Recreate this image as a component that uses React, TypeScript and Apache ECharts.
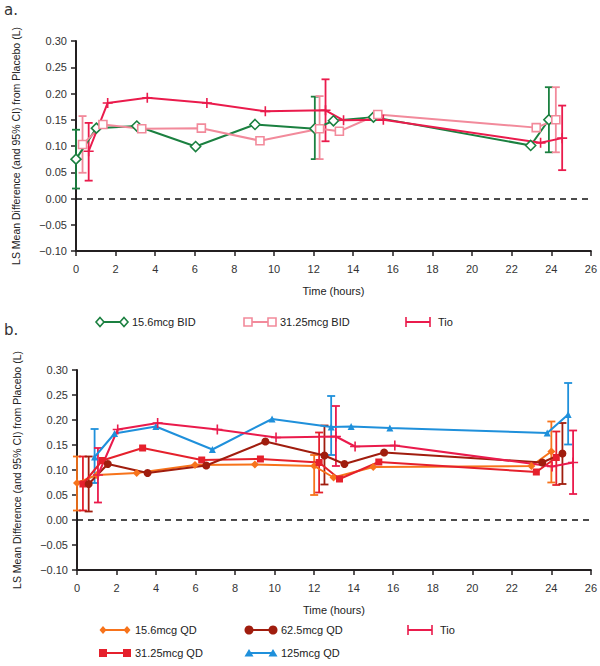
import React, { useEffect, useRef } from "react";
import * as echarts from "echarts";

// ---------- Data (panel a) ----------
const bid156Hours = [0, 1.03, 3.07, 6.04, 9.04, 12.06, 13.0, 15.02, 22.96, 23.88];
const bid156Values = [0.075, 0.134, 0.138, 0.099, 0.141, 0.133, 0.148, 0.155, 0.101, 0.15];
const bid156Err = [[0, 0.019, 0.131], [12.06, 0.075, 0.194], [23.88, 0.088, 0.212]];

const bid3125Hours = [0.33, 1.36, 3.32, 6.33, 9.29, 12.3, 13.3, 15.24, 23.24, 24.23];
const bid3125Values = [0.103, 0.141, 0.133, 0.134, 0.11, 0.133, 0.128, 0.16, 0.135, 0.15];
const bid3125Err = [[0.33, 0.049, 0.157], [12.3, 0.075, 0.195], [24.23, 0.088, 0.212]];

const tioAHours = [0.64, 1.6, 3.6, 6.61, 9.56, 12.6, 13.51, 15.52, 23.46, 24.55];
const tioAValues = [0.09, 0.182, 0.192, 0.182, 0.166, 0.168, 0.149, 0.15, 0.106, 0.115];
const tioAErr = [[0.64, 0.034, 0.144], [12.6, 0.109, 0.227], [24.55, 0.054, 0.177]];

// ---------- Data (panel b) ----------
const qd156Hours = [0, 1.0, 3.02, 5.97, 9.0, 12.0, 12.98, 14.99, 22.99, 24.0];
const qd156Values = [0.074, 0.09, 0.094, 0.11, 0.111, 0.108, 0.085, 0.106, 0.108, 0.137];
const qd156Err = [[0, 0.019, 0.127], [12.0, 0.05, 0.13], [24.0, 0.075, 0.197]];

const qd3125Hours = [0.3, 1.28, 3.32, 6.31, 9.28, 12.25, 13.28, 15.27, 23.24, 24.25];
const qd3125Values = [0.072, 0.119, 0.144, 0.12, 0.122, 0.115, 0.082, 0.116, 0.096, 0.125];
const qd3125Err = [[0.3, 0.019, 0.127], [12.25, 0.055, 0.175], [24.25, 0.07, 0.177]];

const qd625Hours = [0.59, 1.56, 3.57, 6.54, 9.53, 12.52, 13.53, 15.54, 23.54, 24.56];
const qd625Values = [0.072, 0.112, 0.094, 0.109, 0.157, 0.129, 0.112, 0.135, 0.115, 0.133];
const qd625Err = [[0.59, 0.017, 0.127], [12.52, 0.071, 0.189], [24.56, 0.072, 0.194]];

const qd125Hours = [0.89, 1.9, 3.99, 6.85, 9.87, 12.86, 13.87, 15.83, 23.79, 24.85];
const qd125Values = [0.126, 0.173, 0.187, 0.141, 0.202, 0.186, 0.187, 0.184, 0.174, 0.211];
const qd125Err = [[0.89, 0.074, 0.182], [12.86, 0.13, 0.248], [24.85, 0.151, 0.274]];

const tioBHours = [1.06, 2.06, 4.08, 7.1, 10.07, 13.1, 14.07, 16.08, 24.04, 25.1];
const tioBValues = [0.09, 0.181, 0.194, 0.181, 0.165, 0.167, 0.147, 0.149, 0.107, 0.115];
const tioBErr = [[1.06, 0.035, 0.144], [13.1, 0.108, 0.228], [25.1, 0.052, 0.179]];

const legendA = ["15.6mcg BID", "31.25mcg BID", "Tio"];
const legendB = ["15.6mcg QD", "62.5mcg QD", "Tio", "31.25mcg QD", "125mcg QD"];

const yTitle = "LS Mean Difference (and 95% CI) from Placebo (L)";
const xTitle = "Time (hours)";

// ---------- Styles ----------
const FONT = "Liberation Sans, Arial, sans-serif";
const AXIS = "#231f20";
const C_GREEN = "#1b8040";
const C_PINK = "#f28a9b";
const C_TIO = "#ea1b4c";
const C_ORANGE = "#f7731b";
const C_RED = "#e5202c";
const C_DARK = "#a01d0e";
const C_BLUE = "#1f90db";
const PLUS = "path://M5,0L5,10M0,5L10,5";

const zip = (xs: number[], ys: number[]) => xs.map((x, i) => [x, ys[i]]);

function errRender(color: string) {
  return (params: any, api: any) => {
    const x = api.value(0);
    const lo = api.coord([x, api.value(1)]);
    const hi = api.coord([x, api.value(2)]);
    const w = 4;
    const style = { stroke: color, lineWidth: 1.8 };
    return {
      type: "group",
      children: [
        { type: "line", shape: { x1: lo[0], y1: lo[1], x2: hi[0], y2: hi[1] }, style },
        { type: "line", shape: { x1: lo[0] - w, y1: lo[1], x2: lo[0] + w, y2: lo[1] }, style },
        { type: "line", shape: { x1: hi[0] - w, y1: hi[1], x2: hi[0] + w, y2: hi[1] }, style },
      ],
    };
  };
}

function lineSeries(name: string, idx: number, xs: number[], ys: number[], color: string, symbol: string, size: number, hollow = false) {
  return {
    type: "line",
    name,
    xAxisIndex: idx,
    yAxisIndex: idx,
    data: zip(xs, ys),
    symbol,
    symbolSize: size,
    showAllSymbol: true,
    lineStyle: { color, width: 2 },
    itemStyle: {
      color: hollow ? "#ffffff" : color,
      borderColor: color,
      borderWidth: symbol === PLUS ? 1.6 : hollow ? 1.6 : 0,
    },
    z: 3,
  };
}

function errSeries(idx: number, data: number[][], color: string) {
  return {
    type: "custom",
    xAxisIndex: idx,
    yAxisIndex: idx,
    data,
    encode: { x: 0, y: [1, 2] },
    renderItem: errRender(color),
    z: 2,
  };
}

function legendItem(x: number, y: number, label: string, color: string, kind: string) {
  const x1 = x, x2 = x + 24;
  const children: any[] = [
    { type: "line", shape: { x1, y1: y, x2, y2: y }, style: { stroke: color, lineWidth: 2 } },
  ];
  [x1, x2].forEach((cx) => {
    if (kind === "hollowDiamond") {
      children.push({ type: "polygon", shape: { points: [[cx, y - 4.5], [cx + 4, y], [cx, y + 4.5], [cx - 4, y]] }, style: { fill: "#fff", stroke: color, lineWidth: 1.6 } });
    } else if (kind === "hollowSquare") {
      children.push({ type: "rect", shape: { x: cx - 4, y: y - 4, width: 8, height: 8 }, style: { fill: "#fff", stroke: color, lineWidth: 1.6 } });
    } else if (kind === "plus") {
      children.push({ type: "line", shape: { x1: cx, y1: y - 5, x2: cx, y2: y + 5 }, style: { stroke: color, lineWidth: 1.6 } });
    } else if (kind === "diamond") {
      children.push({ type: "polygon", shape: { points: [[cx, y - 4], [cx + 3.5, y], [cx, y + 4], [cx - 3.5, y]] }, style: { fill: color } });
    } else if (kind === "square") {
      children.push({ type: "rect", shape: { x: cx - 4, y: y - 4, width: 8, height: 8 }, style: { fill: color } });
    } else if (kind === "circle") {
      children.push({ type: "circle", shape: { cx, cy: y, r: 4.5 }, style: { fill: color } });
    } else if (kind === "triangle") {
      children.push({ type: "polygon", shape: { points: [[cx, y - 4], [cx + 4.5, y + 3.5], [cx - 4.5, y + 3.5]] }, style: { fill: color } });
    }
  });
  children.push({
    type: "text",
    x: x + 32,
    y,
    style: { text: label, fill: "#222", font: `11px ${FONT}`, verticalAlign: "middle", align: "left" },
  });
  return { type: "group", children };
}

function makeX(idx: number) {
  return {
    gridIndex: idx,
    type: "value",
    min: 0,
    max: 26,
    interval: 2,
    name: xTitle,
    nameLocation: "middle",
    nameGap: 34,
    nameTextStyle: { fontSize: 11, color: "#222", fontFamily: FONT },
    axisLine: { onZero: false, lineStyle: { color: AXIS, width: 2 } },
    axisTick: { length: 5, lineStyle: { color: AXIS, width: 1.5 } },
    axisLabel: { fontSize: 11, color: "#333", margin: 12, fontFamily: FONT },
    splitLine: { show: false },
  };
}

function makeY(idx: number) {
  return {
    gridIndex: idx,
    type: "value",
    min: -0.1,
    max: 0.3,
    interval: 0.05,
    name: yTitle,
    nameLocation: "middle",
    nameGap: 55,
    nameTextStyle: { fontSize: 10.5, color: "#222", fontFamily: FONT },
    axisLine: { show: true, lineStyle: { color: AXIS, width: 2 } },
    axisTick: { show: true, length: 5, lineStyle: { color: AXIS, width: 1.5 } },
    axisLabel: {
      fontSize: 11,
      color: "#333",
      margin: 9,
      fontFamily: FONT,
      formatter: (v: number) => (v < -1e-9 ? "\u2212" + Math.abs(v).toFixed(2) : Math.abs(v).toFixed(2)),
    },
    splitLine: { show: false },
  };
}

function zeroLine(idx: number) {
  return {
    type: "line",
    xAxisIndex: idx,
    yAxisIndex: idx,
    data: [],
    silent: true,
    markLine: {
      silent: true,
      symbol: ["none", "none"],
      label: { show: false },
      lineStyle: { color: "#111", type: [6, 5], width: 1.6 },
      data: [{ yAxis: 0 }],
    },
  };
}

export default function App() {
  const ref = useRef<HTMLDivElement>(null);
  useEffect(() => {
    if (!ref.current) return;
    const chart = echarts.init(ref.current, undefined, { renderer: "svg" });
    chart.setOption({
      animation: false,
      backgroundColor: "#ffffff",
      textStyle: { fontFamily: FONT },
      grid: [
        { left: 76, top: 41, width: 517, height: 210 },
        { left: 77, top: 370, width: 516, height: 200 },
      ],
      xAxis: [makeX(0), makeX(1)],
      yAxis: [makeY(0), makeY(1)],
      series: [
        zeroLine(0),
        zeroLine(1),
        errSeries(0, bid156Err, C_GREEN),
        errSeries(0, bid3125Err, C_PINK),
        errSeries(0, tioAErr, C_TIO),
        lineSeries(legendA[0], 0, bid156Hours, bid156Values, C_GREEN, "diamond", 10, true),
        lineSeries(legendA[1], 0, bid3125Hours, bid3125Values, C_PINK, "rect", 8, true),
        lineSeries(legendA[2], 0, tioAHours, tioAValues, C_TIO, PLUS, 10),
        errSeries(1, qd156Err, C_ORANGE),
        errSeries(1, qd3125Err, C_RED),
        errSeries(1, qd625Err, C_DARK),
        errSeries(1, qd125Err, C_BLUE),
        errSeries(1, tioBErr, C_TIO),
        lineSeries(legendB[0], 1, qd156Hours, qd156Values, C_ORANGE, "diamond", 8),
        lineSeries(legendB[3], 1, qd3125Hours, qd3125Values, C_RED, "rect", 7),
        lineSeries(legendB[1], 1, qd625Hours, qd625Values, C_DARK, "circle", 8),
        lineSeries(legendB[4], 1, qd125Hours, qd125Values, C_BLUE, "triangle", 7),
        lineSeries(legendB[2], 1, tioBHours, tioBValues, C_TIO, PLUS, 10),
      ],
      graphic: [
        { type: "text", left: 4, top: 2, style: { text: "a.", fill: "#333", font: "15px DejaVu Sans, sans-serif" } },
        { type: "text", left: 4, top: 322, style: { text: "b.", fill: "#333", font: "15px DejaVu Sans, sans-serif" } },
        legendItem(100, 322, legendA[0], C_GREEN, "hollowDiamond"),
        legendItem(248, 322, legendA[1], C_PINK, "hollowSquare"),
        legendItem(406, 322, legendA[2], C_TIO, "plus"),
        legendItem(103, 630, legendB[0], C_ORANGE, "diamond"),
        legendItem(249, 630, legendB[1], C_DARK, "circle"),
        legendItem(408, 630, legendB[2], C_TIO, "plus"),
        legendItem(103, 653, legendB[3], C_RED, "square"),
        legendItem(249, 653, legendB[4], C_BLUE, "triangle"),
      ],
    });
    return () => chart.dispose();
  }, []);
  return <div ref={ref} style={{ position: "fixed", left: 0, top: 0, width: 600, height: 666 }} />;
}
